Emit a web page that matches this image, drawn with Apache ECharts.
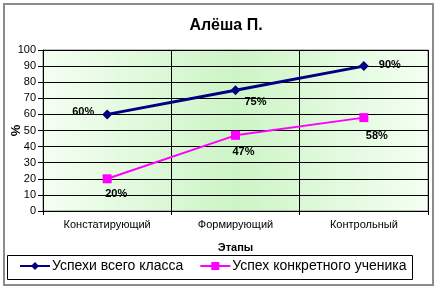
<!DOCTYPE html>
<html><head><meta charset="utf-8">
<script src="https://cdn.jsdelivr.net/npm/echarts@6/dist/echarts.min.js"></script>
<style>html,body{margin:0;padding:0;background:#fff}#c{width:440px;height:290px}</style>
</head><body><div id="c"></div>
<script>
const categories = ['Констатирующий', 'Формирующий', 'Контрольный'];
const classValues = [60, 75, 90];
const studentValues = [20, 47, 58];
const seriesNames = ['Успехи всего класса', 'Успех конкретного ученика'];
const yTicks = [0, 10, 20, 30, 40, 50, 60, 70, 80, 90, 100];

const chart = echarts.init(document.getElementById('c'), null, {renderer: 'canvas'});
const font = 'Arial, "Liberation Sans", sans-serif';
const lblBase = {show: true, formatter: '{c}%', fontFamily: font, fontSize: 11, fontWeight: 'bold', color: '#000'};
const classLabels = [
  {position: 'left', distance: 8, offset: [0, -2]},
  {position: 'bottom', distance: 1, offset: [20, 0]},
  {position: 'right', distance: 10, offset: [0, -1]}
];
const studentLabels = [
  {position: 'bottom', distance: 5, offset: [9, 0]},
  {position: 'bottom', distance: 7, offset: [8, 0]},
  {position: 'bottom', distance: 8, offset: [13, 0]}
];
chart.setOption({
  animation: false,
  backgroundColor: '#fff',
  title: {text: 'Алёша П.', left: 221, textAlign: 'center', top: 13,
    textStyle: {fontFamily: font, fontSize: 16, fontWeight: 'bold', color: '#000'}},
  graphic: [
    {type: 'rect', shape: {x: 4, y: 4, width: 429, height: 281},
      style: {fill: null, stroke: '#8c8c8c', lineWidth: 2}, z: -1},
    {type: 'rect', shape: {x: 7.5, y: 255.5, width: 405, height: 24},
      style: {fill: '#fff', stroke: '#000', lineWidth: 1}, z: 0}
  ],
  grid: {left: 43, right: 12, top: 50, bottom: 79, containLabel: false, outerBoundsMode: 'none',
    show: true, borderColor: '#808080', borderWidth: 1,
    backgroundColor: new echarts.graphic.LinearGradient(0, 0, 1, 0, [
      {offset: 0, color: '#f4fff2'}, {offset: 0.5, color: '#cdf4c6'}, {offset: 1, color: '#f4fff2'}])},
  legend: {left: 19, top: 259, padding: 0, itemGap: 16, itemWidth: 30, itemHeight: 10, z: 5,
    textStyle: {fontFamily: font, fontSize: 14, color: '#000', padding: [0, 0, 0, -3]},
    data: seriesNames},
  xAxis: {type: 'category', data: categories, boundaryGap: true,
    name: 'Этапы', nameLocation: 'middle', nameGap: 31,
    nameTextStyle: {fontFamily: font, fontSize: 11, fontWeight: 'bold', color: '#000'},
    axisLine: {lineStyle: {color: '#000'}}, axisTick: {show: true, length: 4, lineStyle: {color: '#000'}},
    axisLabel: {fontFamily: font, fontSize: 11, color: '#000', margin: 8},
    splitLine: {show: true, lineStyle: {color: '#000', width: 1}}},
  yAxis: {type: 'value', min: 0, max: 100, interval: 10,
    name: '%', nameLocation: 'middle', nameGap: 20, nameRotate: 90, nameMoveOverlap: false,
    nameTextStyle: {fontFamily: font, fontSize: 13, fontWeight: 'bold', color: '#000'},
    axisLine: {show: true, lineStyle: {color: '#000'}}, axisTick: {show: true, length: 5, lineStyle: {color: '#000'}},
    axisLabel: {fontFamily: font, fontSize: 11, color: '#000', margin: 7,
      formatter: v => yTicks.includes(v) ? String(v) : ''},
    splitLine: {show: true, lineStyle: {color: '#000', width: 1}}},
  series: [
    {name: seriesNames[0], type: 'line', smooth: false, symbol: 'diamond', symbolSize: 10,
      data: classValues.map((v, i) => ({value: v, label: Object.assign({}, lblBase, classLabels[i])})),
      lineStyle: {color: '#000080', width: 3}, itemStyle: {color: '#000080'},
      label: lblBase, emphasis: {disabled: true}},
    {name: seriesNames[1], type: 'line', smooth: false, symbol: 'rect', symbolSize: 9,
      data: studentValues.map((v, i) => ({value: v, label: Object.assign({}, lblBase, studentLabels[i])})),
      lineStyle: {color: '#ff00ff', width: 2}, itemStyle: {color: '#ff00ff'},
      label: lblBase, emphasis: {disabled: true}}
  ]
});
</script></body></html>
